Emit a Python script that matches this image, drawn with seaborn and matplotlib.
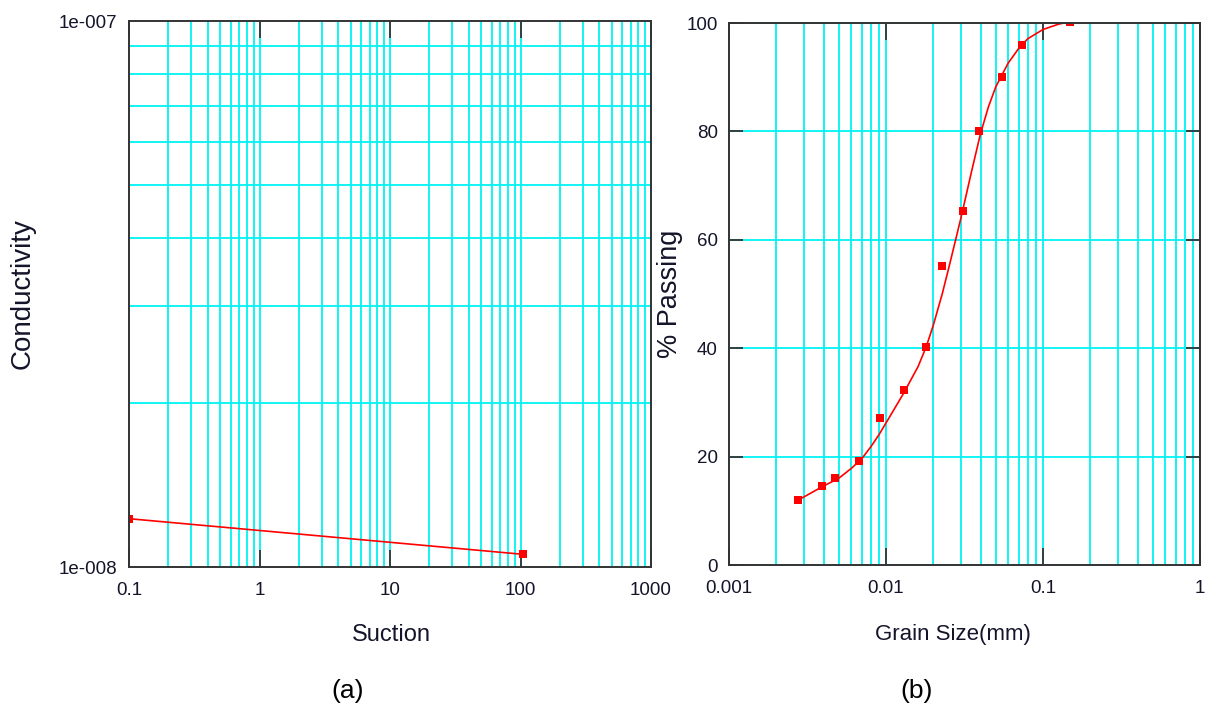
import matplotlib
matplotlib.use("Agg")
import matplotlib.pyplot as plt
import seaborn as sns
import pandas as pd
from matplotlib.ticker import FixedLocator, FixedFormatter, LogLocator, NullFormatter

# ---------------- data ----------------
suction = [0.1, 104]
conductivity = [1.226e-8, 1.055e-8]

grain_pts = [0.00277, 0.00391, 0.00475, 0.00672, 0.00915, 0.01295, 0.018,
             0.02277, 0.0308, 0.0394, 0.0545, 0.0738, 0.148]
passing_pts = [12.0, 14.6, 16.1, 19.2, 27.2, 32.2, 40.3, 55.1, 65.3, 80.1,
               90.1, 95.9, 100.2]

grain_fit = [0.00277, 0.0039, 0.005, 0.006, 0.007, 0.008, 0.009, 0.010,
             0.0129, 0.016, 0.018, 0.020, 0.0228, 0.025, 0.030, 0.035,
             0.040, 0.045, 0.050, 0.060, 0.070, 0.080, 0.100, 0.126, 0.148]
passing_fit = [12.0, 14.4, 16.0, 17.8, 19.6, 21.8, 24.0, 26.2,
               31.6, 36.6, 40.2, 44.2, 50.0, 54.6, 64.0, 72.5,
               79.6, 84.6, 88.2, 92.6, 95.3, 97.1, 98.8, 99.8, 100.2]

left_xticks = [0.1, 1, 10, 100, 1000]
left_xlabels = ["0.1", "1", "10", "100", "1000"]
left_yticks = [1e-8, 1e-7]
left_ylabels = ["1e-008", "1e-007"]
right_xticks = [0.001, 0.01, 0.1, 1]
right_xlabels = ["0.001", "0.01", "0.1", "1"]
right_yticks = [0, 20, 40, 60, 80, 100]
right_ylabels = ["0", "20", "40", "60", "80", "100"]

# ---------------- style ----------------
sns.set_style("white")
plt.rcParams['font.family'] = ['Liberation Sans', 'DejaVu Sans']

GRID = "#00F2F2"
SPINE = "#333333"
RED = "#FF0000"
TXT = "#14142a"

fig = plt.figure(figsize=(12.13, 7.13), dpi=100)
fig.patch.set_facecolor("white")

axL = fig.add_axes([129 / 1213, 1 - 567 / 713, 522 / 1213, 546 / 713])
axR = fig.add_axes([729 / 1213, 1 - 565 / 713, 471 / 1213, 542 / 713])

# ---------------- left panel ----------------
dfL = pd.DataFrame({"Suction": suction, "Conductivity": conductivity})
sns.lineplot(data=dfL, x="Suction", y="Conductivity", ax=axL, color=RED,
             lw=1.2, zorder=4)
sns.scatterplot(data=dfL, x="Suction", y="Conductivity", ax=axL, color=RED,
                marker="s", s=32, linewidth=0, zorder=5)
axL.set_xscale("log")
axL.set_yscale("log")
axL.set_xlim(0.1, 1000)
axL.set_ylim(1e-8, 1e-7)

# ---------------- right panel ----------------
dfP = pd.DataFrame({"g": grain_pts, "p": passing_pts})
dfF = pd.DataFrame({"g": grain_fit, "p": passing_fit})
sns.lineplot(data=dfF, x="g", y="p", ax=axR, color=RED, lw=1.2, zorder=4)
sns.scatterplot(data=dfP, x="g", y="p", ax=axR, color=RED, marker="s",
                s=26, linewidth=0, zorder=5)
axR.set_xscale("log")
axR.set_xlim(0.001, 1)
axR.set_ylim(0, 100)

# ---------------- axes cosmetics ----------------
for ax in (axL, axR):
    ax.xaxis.set_major_locator(FixedLocator(left_xticks if ax is axL else right_xticks))
    ax.xaxis.set_major_formatter(FixedFormatter(left_xlabels if ax is axL else right_xlabels))
    ax.xaxis.set_minor_locator(LogLocator(base=10, subs=range(2, 10), numticks=20))
    ax.xaxis.set_minor_formatter(NullFormatter())
    ax.grid(which="both", axis="x", color=GRID, lw=1.3, zorder=0)
    for sp in ax.spines.values():
        sp.set_color(SPINE)
        sp.set_linewidth(1.4)
        sp.set_zorder(6)
    ax.tick_params(which="major", axis="x", direction="in", length=12.5,
                   width=1.3, color=SPINE, top=True, bottom=True,
                   labelsize=13.5, labelcolor=TXT, pad=11)
    ax.tick_params(which="minor", length=0)
    ax.set_axisbelow(True)

axL.yaxis.set_major_locator(FixedLocator(left_yticks))
axL.yaxis.set_major_formatter(FixedFormatter(left_ylabels))
axL.yaxis.set_minor_locator(LogLocator(base=10, subs=range(2, 10), numticks=20))
axL.yaxis.set_minor_formatter(NullFormatter())
axL.grid(which="minor", axis="y", color=GRID, lw=1.3, zorder=0)
axL.tick_params(which="major", axis="y", direction="in", length=0,
                labelsize=13.5, labelcolor=TXT, pad=8.5)

axR.yaxis.set_major_locator(FixedLocator(right_yticks))
axR.yaxis.set_major_formatter(FixedFormatter(right_ylabels))
axR.grid(which="major", axis="y", color=GRID, lw=1.3, zorder=0)
axR.tick_params(which="major", axis="y", direction="in", length=10,
                width=1.3, color=SPINE, left=True, right=True,
                labelsize=13.5, labelcolor=TXT, pad=8)

axL.set_xlabel("Suction", fontsize=17, color=TXT)
axL.set_ylabel("Conductivity", fontsize=20, color=TXT)
axL.xaxis.set_label_coords(0.502, -0.105)
axL.yaxis.set_label_coords(-0.178, 0.5)

axR.set_xlabel("Grain Size(mm)", fontsize=16, color=TXT)
axR.set_ylabel("% Passing", fontsize=19.5, color=TXT)
axR.xaxis.set_label_coords(0.475, -0.109)
axR.yaxis.set_label_coords(-0.098, 0.5)

fig.text(348 / 1213, 1 - 691 / 713, "(a)", fontsize=19, ha="center",
         va="center", color="black")
fig.text(917 / 1213, 1 - 691 / 713, "(b)", fontsize=19, ha="center",
         va="center", color="black")

fig.savefig("out.png", dpi=100, facecolor="white")
